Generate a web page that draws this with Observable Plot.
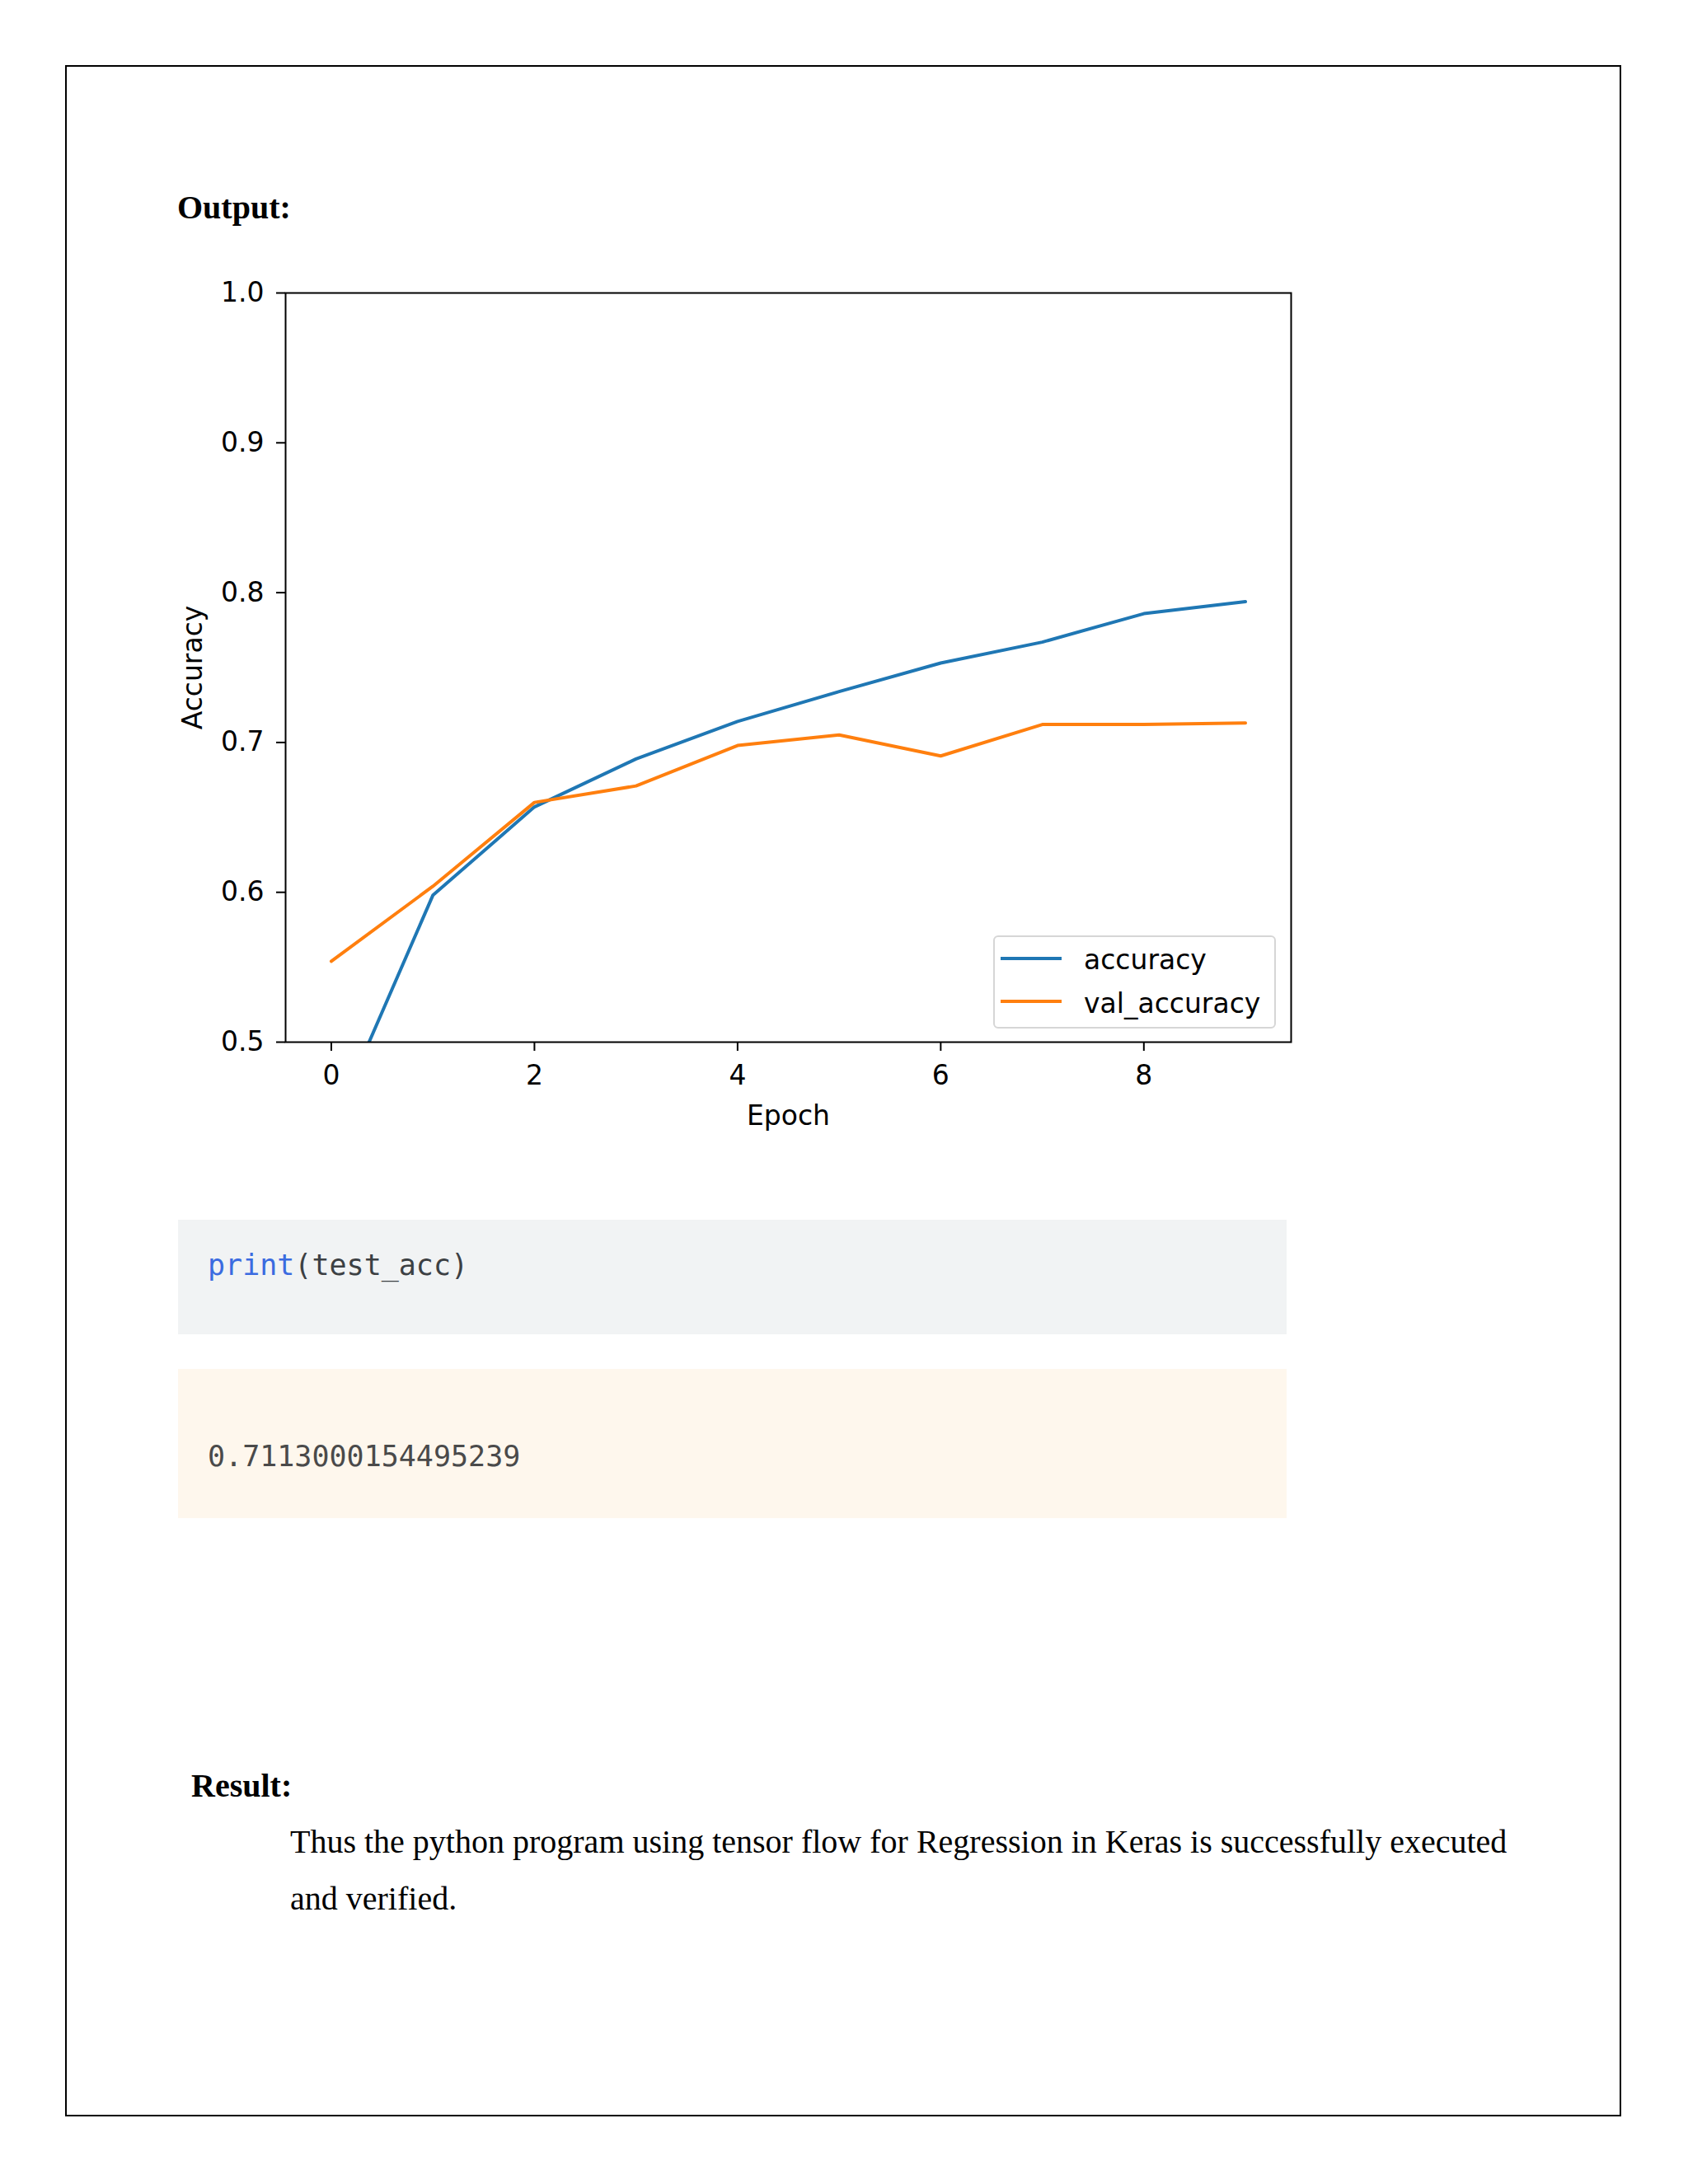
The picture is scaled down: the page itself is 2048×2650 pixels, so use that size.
<!DOCTYPE html>
<html>
<head>
<meta charset="utf-8">
<script src="https://cdn.jsdelivr.net/npm/d3@7"></script>
<script src="https://cdn.jsdelivr.net/npm/@observablehq/plot@0.6"></script>
<style>
  html, body { margin: 0; padding: 0; background: #fff; }
  #page { position: relative; width: 2048px; height: 2650px; background: #fff; overflow: hidden; }
  .abs { position: absolute; white-space: nowrap; }
  .serif { font-family: "Liberation Serif", "Times New Roman", serif; color: #000; font-size: 40px; line-height: 1; }
  .mono { font-family: "DejaVu Sans Mono", monospace; font-size: 35px; line-height: 1; }
  .legtxt { font-family: "DejaVu Sans", sans-serif; font-size: 33px; line-height: 1; color: #000; }
</style>
</head>
<body>
<div id="page">
  <div class="abs" style="left:79px;top:79px;width:1884px;height:2485px;border:2px solid #000;"></div>
  <div class="abs serif" style="left:215px;top:232px;font-weight:bold;">Output:</div>
  <div id="chart" class="abs" style="left:150px;top:300px;"></div>
  <div id="legend" class="abs" style="left:1205px;top:1135px;width:339px;height:109px;border:2px solid #d6d6d6;border-radius:6px;background:rgba(255,255,255,0.8);"></div>

  <div class="abs" style="left:216px;top:1480px;width:1345px;height:139px;background:#f1f3f4;"></div>
  <div class="abs mono" style="left:252px;top:1518px;color:#3c4043;"><span style="color:#3b6be0;">print</span>(test_acc)</div>

  <div class="abs" style="left:216px;top:1661px;width:1345px;height:181px;background:#fef7ed;"></div>
  <div class="abs mono" style="left:252px;top:1750px;color:#4a4a4a;">0.7113000154495239</div>

  <div class="abs serif" style="left:232px;top:2147px;font-weight:bold;">Result:</div>
  <div class="abs serif" style="left:352px;top:2200px;line-height:69px;">Thus the python program using tensor flow for Regression in Keras is successfully executed<br>and verified.</div>
</div>
<script>
const epochs = [0, 1, 2, 3, 4, 5, 6, 7, 8, 9];
const accuracy = [0.442, 0.598, 0.657, 0.689, 0.714, 0.734, 0.753, 0.767, 0.786, 0.794];
const valAccuracy = [0.554, 0.604, 0.660, 0.671, 0.698, 0.705, 0.691, 0.712, 0.712, 0.713];
const seriesNames = ["accuracy", "val_accuracy"];
const seriesColors = ["#1f77b4", "#ff7f0e"];
const xTicks = [0, 2, 4, 6, 8];
const yTicks = [0.5, 0.6, 0.7, 0.8, 0.9, 1.0];
const xLabel = "Epoch";
const yLabel = "Accuracy";

const table = epochs.flatMap((e, i) => [
  {epoch: e, series: seriesNames[0], value: accuracy[i]},
  {epoch: e, series: seriesNames[1], value: valAccuracy[i]}
]);

const chart = Plot.plot({
  width: 1500,
  height: 1100,
  marginLeft: 196,
  marginRight: 84,
  marginTop: 55,
  marginBottom: 136,
  style: {fontFamily: "DejaVu Sans", fontSize: "33px", color: "#000", background: "transparent", overflow: "visible"},
  x: {domain: [-0.45, 9.45]},
  y: {domain: [0.5, 1.0]},
  color: {domain: seriesNames, range: seriesColors},
  marks: [
    Plot.line(table, {x: "epoch", y: "value", stroke: "series", strokeWidth: 4, clip: true}),
    Plot.frame({stroke: "#000", strokeWidth: 2}),
    Plot.axisX({ticks: xTicks, tickSize: 11, tickPadding: 17, strokeWidth: 2, fontSize: 33, label: null}),
    Plot.axisY({ticks: yTicks, tickFormat: ".1f", tickSize: 11, tickPadding: 15, strokeWidth: 2, fontSize: 33, label: null}),
    Plot.text([yLabel], {text: d => d, frameAnchor: "left", textAnchor: "middle", lineAnchor: "middle", dx: -112, rotate: -90, fontSize: 33}),
    Plot.text([xLabel], {text: d => d, frameAnchor: "bottom", textAnchor: "middle", lineAnchor: "middle", dy: 90, fontSize: 33})
  ]
});
document.getElementById("chart").appendChild(chart);

const leg = document.getElementById("legend");
const legBaselines = [39, 92];
seriesNames.forEach((name, i) => {
  const sw = document.createElement("div");
  sw.style.cssText = `position:absolute;left:7px;top:${[24, 76][i]}px;width:74px;height:4px;background:${seriesColors[i]};`;
  leg.appendChild(sw);
  const t = document.createElement("div");
  t.className = "legtxt";
  t.textContent = name;
  t.style.cssText += `position:absolute;left:108px;top:${legBaselines[i] - 28}px;white-space:nowrap;`;
  leg.appendChild(t);
});
</script>
</body>
</html>
